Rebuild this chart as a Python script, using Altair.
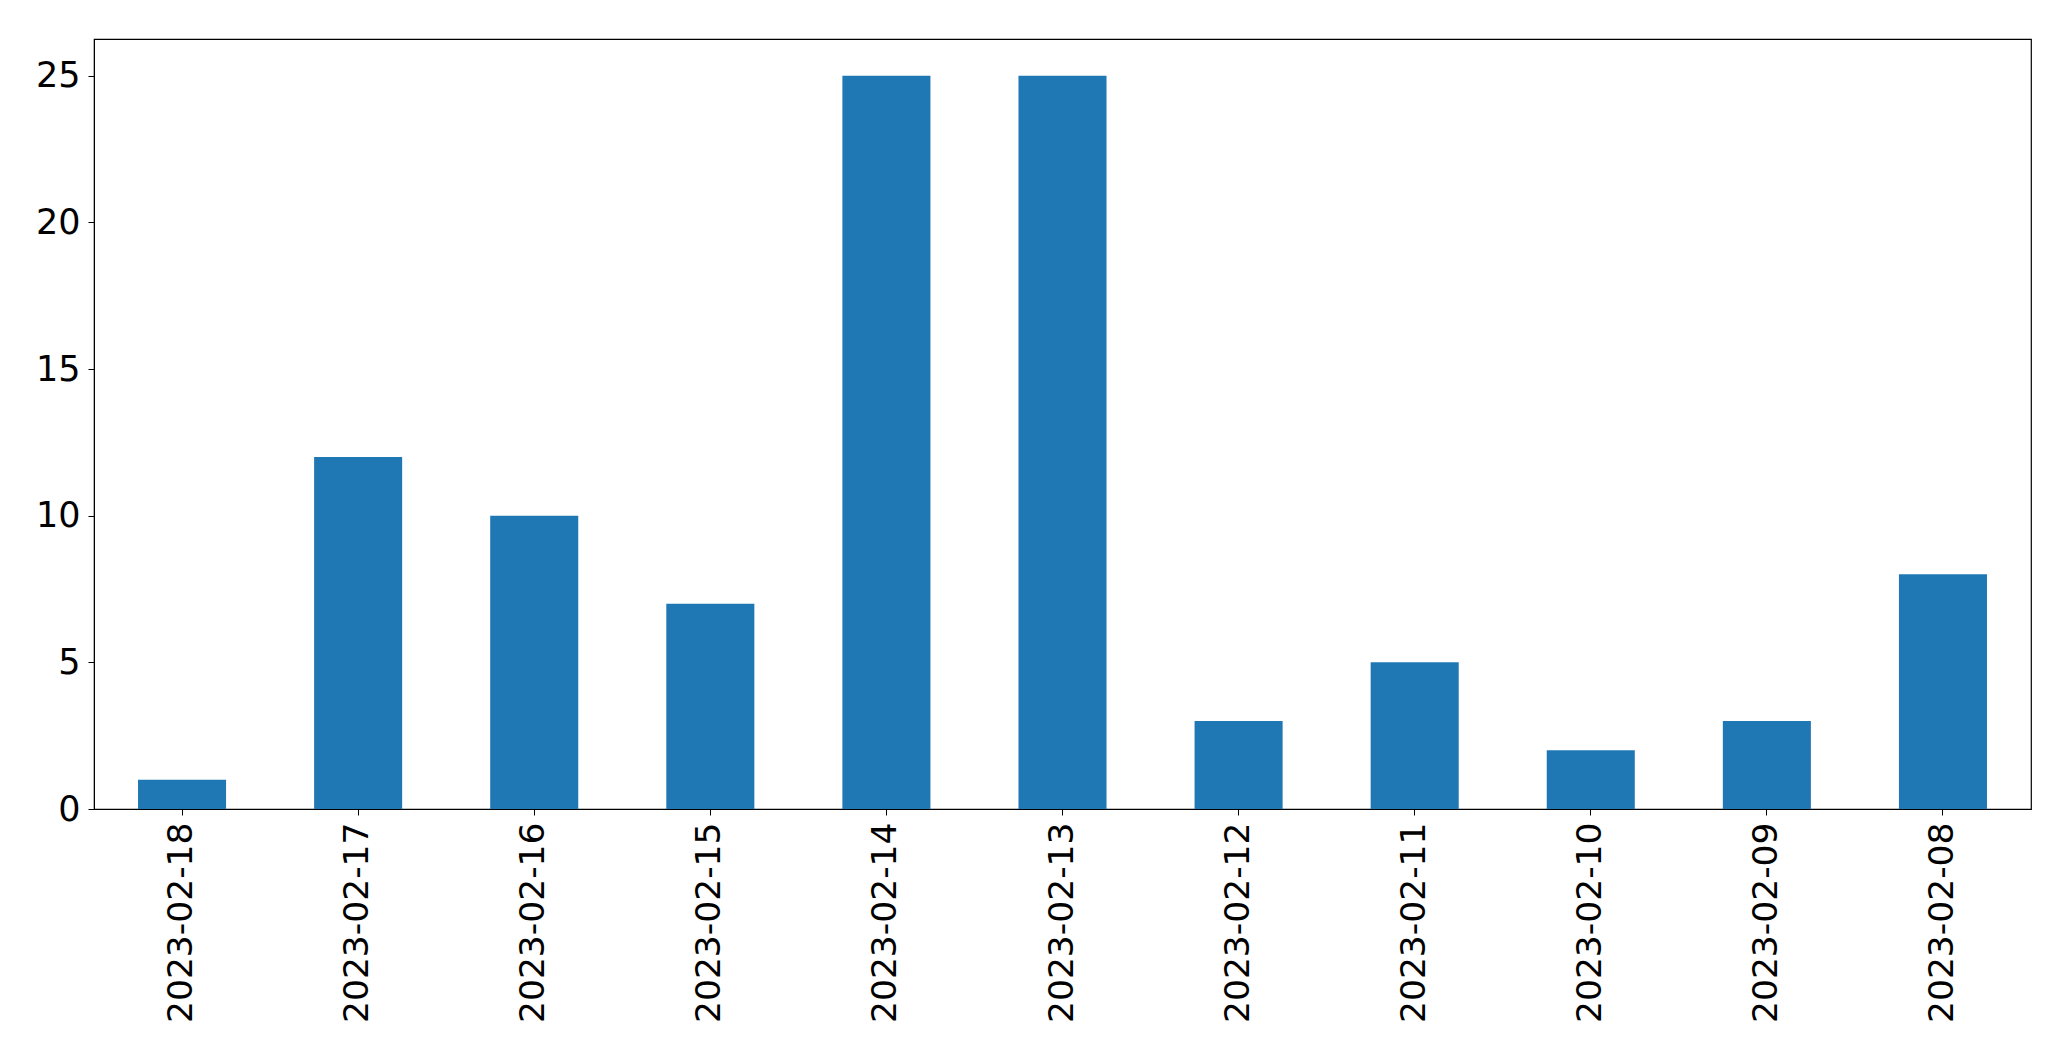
import altair as alt
import pandas as pd

dates = ["2023-02-18", "2023-02-17", "2023-02-16", "2023-02-15", "2023-02-14",
         "2023-02-13", "2023-02-12", "2023-02-11", "2023-02-10", "2023-02-09", "2023-02-08"]
counts = [1, 12, 10, 7, 25, 25, 3, 5, 2, 3, 8]
y_ticks = [0, 5, 10, 15, 20, 25]

df = pd.DataFrame({"date": dates, "count": counts})

font = "DejaVu Sans"

chart = alt.Chart(df).mark_bar(color="#1f77b4").encode(
    x=alt.X("date:N", sort=None, title=None,
            scale=alt.Scale(paddingInner=0.5, paddingOuter=0.25),
            axis=alt.Axis(labelAngle=-90, labelAlign="right", labelBaseline="middle",
                          labelFont=font, labelFontSize=34.5, labelColor="black",
                          labelLimit=0, labelOverlap=False,
                          labelPadding=7, tickSize=6, tickColor="black",
                          domainColor="black", grid=False)),
    y=alt.Y("count:Q", title=None,
            scale=alt.Scale(domain=[0, 26.25], nice=False, zero=True),
            axis=alt.Axis(values=y_ticks, labelFont=font, labelFontSize=35,
                          labelColor="black", labelPadding=8, tickSize=6,
                          tickColor="black", domainColor="black", grid=False)),
).properties(
    width=1937, height=770,
    autosize=alt.AutoSizeParams(type="none"),
    padding={"left": 86, "top": 31, "right": 30, "bottom": 240},
).configure_view(
    stroke="black", strokeWidth=1.2
)

chart.save("out.html", embed_options={"renderer": "svg", "actions": False})
